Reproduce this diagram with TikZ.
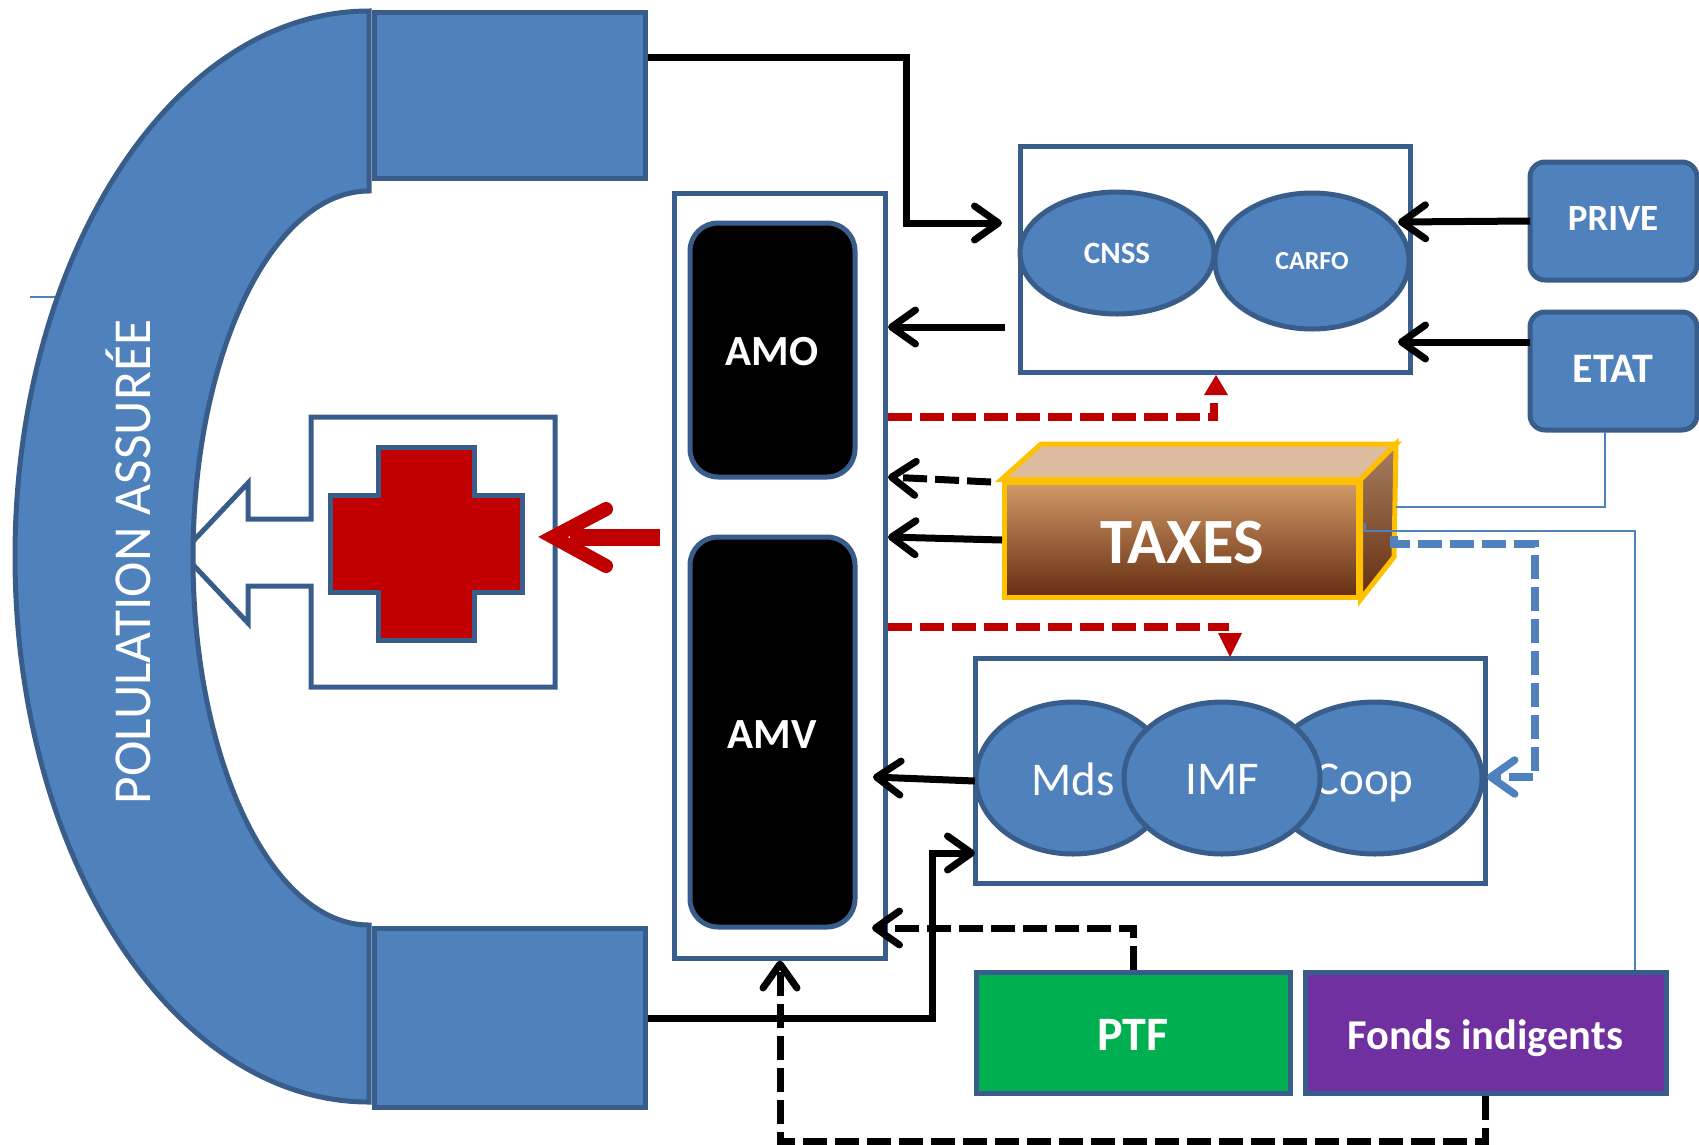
\documentclass[tikz,border=0pt]{standalone}
\usepackage{fontspec}
\setmainfont{Carlito}
\usetikzlibrary{arrows.meta,calc,shapes.geometric}
\definecolor{bfill}{HTML}{4F81BD}
\definecolor{bline}{HTML}{385D8A}
\definecolor{dred}{HTML}{C00000}
\definecolor{gold}{HTML}{FFC000}
\definecolor{ptfg}{HTML}{00B050}
\definecolor{fondsp}{HTML}{7030A0}
\definecolor{taxa}{HTML}{D29B68}
\definecolor{taxb}{HTML}{A0552A}
\definecolor{taxc}{HTML}{652D10}
\definecolor{taxtop}{HTML}{DDBB9F}
\definecolor{sidea}{HTML}{A87F60}
\newcommand{\fs}[1]{\fontsize{#1}{#1}\selectfont}
\tikzset{
  blockbox/.style={draw=bline,line width=5pt,fill=bfill,inner sep=0pt,text=white},
  plainbox/.style={draw=bline,line width=5pt,fill=white,inner sep=0pt},
  oval/.style={ellipse,draw=bline,line width=5pt,fill=bfill,inner sep=0pt,text=white},
  blackbox/.style={draw=bline,line width=5pt,fill=black,inner sep=0pt,text=white,rounded corners=28pt},
  roundblue/.style={blockbox,rounded corners=15pt},
  barb/.style={-{Straight Barb[length=24pt,width=34pt,round]}},
  solidlink/.style={barb,draw=black,line width=7pt},
  dashlink/.style={barb,draw=black,line width=7pt,dash pattern=on 24pt off 8pt},
  reddash/.style={draw=dred,line width=7.5pt,dash pattern=on 24pt off 8pt},
  bluedash/.style={draw=bfill,line width=7.5pt,dash pattern=on 24pt off 8pt,-{Straight Barb[length=24pt,width=34pt,round]}},
  thinblue/.style={draw=bfill,line width=1.5pt}
}
\begin{document}
\begin{tikzpicture}[x=1pt,y=-1pt,line join=miter]
\useasboundingbox (0,0) rectangle (1699,1144);
% thin tick
\coordinate (ticka) at (30,297);
\coordinate (tickb) at (60,297);
\draw[thinblue] (ticka) -- (tickb);
% clinic callout
\draw[plainbox] (311,417) -- (555,417) -- (555,687) -- (311,687) -- (311,586) -- (248,586) -- (248,623) -- (182,553) -- (248,483) -- (248,519) -- (311,519) -- cycle;
% crescent
\draw[blockbox] (369,11) arc[start angle=90,end angle=270,x radius=354pt,y radius=545.5pt] -- (369,925) arc[start angle=270,end angle=90,x radius=176pt,y radius=367pt] -- cycle;
\node[text=white,rotate=90,inner sep=0pt] (pop) at (128,562) {\fs{53.4}POLULATION ASSURÉE};
% blocks
\node[blockbox,minimum width=271pt,minimum height=166pt] (toprect) at (509.5,95) {};
\node[blockbox,minimum width=271pt,minimum height=179pt] (botrect) at (509.5,1018) {};
% cross
\draw[draw=bline,line width=5pt,fill=dred] (378,447) -- (474,447) -- (474,495) -- (522,495) -- (522,592) -- (474,592) -- (474,640) -- (378,640) -- (378,592) -- (330,592) -- (330,495) -- (378,495) -- cycle;
% AM column
\node[plainbox,minimum width=211pt,minimum height=765pt] (column) at (780,575.5) {};
\node[blackbox,minimum width=165pt,minimum height=254pt] (amo) at (772.5,350) {};
\node[text=white,inner sep=0pt] (amolabel) at (772,352) {\fs{43}\bfseries AMO};
\node[blackbox,minimum width=165pt,minimum height=390pt] (amv) at (772.5,732) {};
\node[text=white,inner sep=0pt] (amvlabel) at (772,735) {\fs{43}\bfseries AMV};
% CNSS group
\node[plainbox,minimum width=390pt,minimum height=226pt] (caisses) at (1215,259.5) {};
\node[oval,minimum width=194pt,minimum height=122pt] (cnss) at (1117,253) {\fs{31}\bfseries CNSS};
\node[oval,minimum width=194pt,minimum height=136pt] (carfo) at (1312,261) {\fs{26}\bfseries CARFO};
\node[roundblue,minimum width=167pt,minimum height=118pt] (prive) at (1613.5,221) {};
\node[text=white,inner sep=0pt] (privelabel) at (1613,218) {\fs{37}\bfseries PRIVE};
\node[roundblue,minimum width=167pt,minimum height=118pt] (etat) at (1613.5,371) {};
\node[text=white,inner sep=0pt] (etatlabel) at (1613,369) {\fs{42}\bfseries ETAT};
% Mds group
\node[plainbox,minimum width=510pt,minimum height=225pt] (reseau) at (1230,770.5) {};
\node[oval,minimum width=194pt,minimum height=152pt] (mds) at (1073,778) {};
\node[text=white,inner sep=0pt] (mdslabel) at (1073,779) {\fs{47}Mds};
\node[oval,minimum width=214pt,minimum height=152pt] (coop) at (1375,778) {};
\node[text=white,inner sep=0pt] (cooplabel) at (1364,783) {\fs{47}Coop};
\node[oval,minimum width=196pt,minimum height=152pt] (imf) at (1222,778) {};
\node[text=white,inner sep=0pt] (imflabel) at (1222,779) {\fs{47}IMF};
% PTF, Fonds
\node[blockbox,fill=ptfg,minimum width=314pt,minimum height=121pt] (ptf) at (1133,1032.5) {};
\node[text=white,inner sep=0pt] (ptflabel) at (1133,1035) {\fs{48}\bfseries PTF};
\node[blockbox,fill=fondsp,minimum width=361pt,minimum height=121pt] (fonds) at (1485.5,1032.5) {};
\node[text=white,inner sep=0pt] (fondslabel) at (1485,1038) {\fs{42.5}\bfseries Fonds indigents};
% thin blue connectors
\coordinate (thinA) at (1396,507);
\coordinate (thinE) at (1605,432);
\coordinate (thinB) at (1365,523);
\coordinate (thinC) at (1635,531);
% taxes
\node[draw=gold,line width=5pt,top color=taxa,middle color=taxb,bottom color=taxc,inner sep=0pt,minimum width=354pt,minimum height=115pt] (taxes) at (1181,539.5) {};
\draw[draw=gold,line width=5pt,fill=taxtop] (taxes.north west) -- (1041,444) -- (1396,444) -- (taxes.north east) -- cycle;
\draw[draw=gold,line width=5pt,top color=sidea,bottom color=taxc] (taxes.north east) -- (1396,444) -- (1394,557) -- (taxes.south east) -- cycle;
\node[text=white,inner sep=0pt] (taxlabel) at (1182,543) {\fs{64.6}\bfseries TAXES};
\draw[thinblue] (thinE) -- (thinE |- thinA) -- (thinA);
\draw[thinblue] (thinB) -- (thinB |- thinC) -- (thinC) -- (thinC |- fonds.north);
% red arrow to clinic
\coordinate (redtail) at (660,537);
\coordinate (redtip) at (570,537);
\draw[draw=dred,line width=17pt] (redtail) -- (redtip);
\draw[draw=dred,line width=14pt,line cap=round,line join=miter] (606,509) -- (553,537) -- (606,566);
% solid links
\coordinate (topbend) at (906,57);
\coordinate (toptip) at (1002,223);
\draw[solidlink] (toprect.east |- topbend) -- (topbend) |- (toptip);
\coordinate (amotail) at (1005,327);
\coordinate (amotip) at (888,327);
\draw[solidlink] (amotail) -- (amotip);
\coordinate (prtail) at (1530,221);
\coordinate (prtip) at (1398,222);
\draw[solidlink] (prtail) -- (prtip);
\coordinate (ettail) at (1530,342);
\coordinate (ettip) at (1398,342);
\draw[solidlink] (ettail) -- (ettip);
\coordinate (taxsolidtail) at (1002,540);
\coordinate (taxsolidtip) at (888,537);
\draw[solidlink] (taxsolidtail) -- (taxsolidtip);
\coordinate (taxdashtail) at (991,482);
\coordinate (taxdashtip) at (888,477);
\draw[dashlink] (taxdashtail) -- (taxdashtip);
\coordinate (mdstail) at (975,781);
\coordinate (mdstip) at (873,777);
\draw[solidlink] (mdstail) -- (mdstip);
\coordinate (botbend) at (932,1018);
\coordinate (bottip) at (975,853);
\draw[solidlink] (botrect.east |- botbend) -- (botbend) |- (bottip);
% dashed links
\coordinate (ptfbend) at (1133,928);
\coordinate (ptftip) at (872,928);
\draw[dashlink] (ptf.north) -- (ptfbend) -- (ptftip);
\coordinate (fondsbend) at (1485,1141);
\draw[dashlink] (fonds.south) -- (fonds.south |- fondsbend) -- (column.south |- fondsbend) -- (column.south);
% red dashed
\coordinate (reda) at (1214,417);
\coordinate (redb) at (1216,375);
\draw[reddash] (column.east |- reda) -- (reda) -- ++(0,-14);
\fill[dred] (redb) -- ++(-12,20) -- ++(24,0) -- cycle;
\coordinate (redc) at (1229,627);
\coordinate (redd) at (1230,657);
\draw[reddash] (column.east |- redc) -- (redc);
\fill[dred] (redd) -- ++(-12,-24) -- ++(24,0) -- cycle;
% blue dashed
\coordinate (blstart) at (1394,536);
\coordinate (blbend) at (1535,544);
\coordinate (bltip) at (1487,777);
\draw[bluedash] (blstart) |- (blbend) |- (bltip);
\end{tikzpicture}
\end{document}
